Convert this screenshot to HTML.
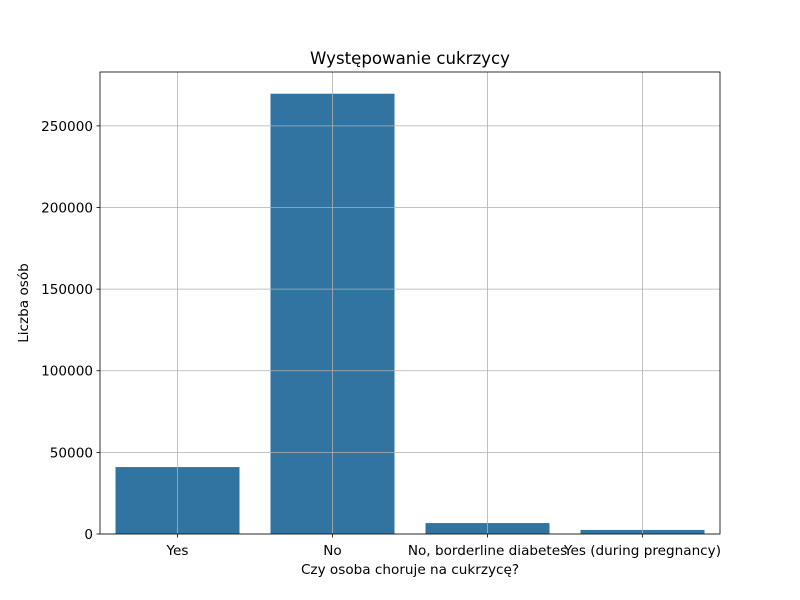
<!DOCTYPE html>
<html><head><meta charset="utf-8"><style>body{margin:0;background:#fff}svg{display:block;font-family:"DejaVu Sans","Liberation Sans",sans-serif}</style></head>
<body>
<svg id="c" width="800" height="600"></svg>
<script>
const categories=["Yes","No","No, borderline diabetes","Yes (during pregnancy)"];
const counts=[41000,269700,6700,2500];
const yTicks=[0,50000,100000,150000,200000,250000];
const L=100,R=720,T=72,B=534,yMax=283000;
const NS="http://www.w3.org/2000/svg",svg=document.getElementById('c');
function y(v){return B-(v/yMax)*(B-T);}
const step=(R-L)/categories.length;
function xc(i){return L+step*(i+0.5);}
function mk(t,a,txt){const e=document.createElementNS(NS,t);for(const k in a)e.setAttribute(k,a[k]);if(txt!==undefined)e.textContent=txt;svg.appendChild(e);return e;}
counts.forEach((v,i)=>{const r=mk('rect',{x:xc(i)-step*0.4,y:y(v),width:step*0.8,height:B-y(v),fill:'#3274a1'});

});
yTicks.forEach(t=>{const g=mk('line',{x1:L,x2:R,y1:y(t),y2:y(t),stroke:'#b0b0b0','stroke-width':0.8});


mk('line',{x1:L-3.5,x2:L,y1:y(t),y2:y(t),stroke:'#000','stroke-width':0.8});
const tl=mk('text',{x:L-7,y:y(t)+5,'text-anchor':'end','font-size':13.6},String(t));

});
categories.forEach((c,i)=>{const g=mk('line',{x1:xc(i),x2:xc(i),y1:T,y2:B,stroke:'#b0b0b0','stroke-width':0.8});


mk('line',{x1:xc(i),x2:xc(i),y1:B,y2:B+3.5,stroke:'#000','stroke-width':0.8});
const tl=mk('text',{x:xc(i),y:B+21,'text-anchor':'middle','font-size':13.6},c);

});
const f=mk('rect',{x:L,y:T,width:R-L,height:B-T,fill:'none',stroke:'#000','stroke-width':0.8});


const t1=mk('text',{x:(L+R)/2,y:64,'text-anchor':'middle','font-size':16.6},'Występowanie cukrzycy');


const t2=mk('text',{x:(L+R)/2,y:574,'text-anchor':'middle','font-size':13.6},'Czy osoba choruje na cukrzycę?');


const t3=mk('text',{x:28,y:(T+B)/2,'text-anchor':'middle','font-size':13.6,transform:'rotate(-90 28 '+((T+B)/2)+')'},'Liczba osób');


</script>
</body></html>
